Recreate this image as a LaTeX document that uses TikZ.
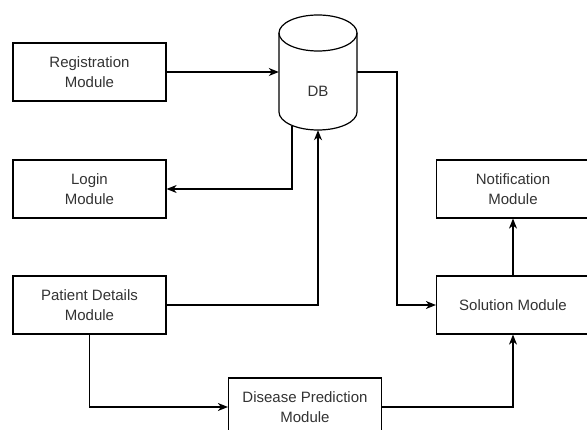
\documentclass[tikz,border=0pt]{standalone}
\usepackage{fontspec}
\setmainfont{Liberation Sans}
\usetikzlibrary{arrows.meta,calc}
\begin{document}
\begin{tikzpicture}[x=1pt,y=-1pt,
  box/.style={draw=black, line width=1.2pt, minimum width=153pt, minimum height=58pt,
    inner sep=0pt, align=center, font=\fontsize{15}{20}\selectfont, text=black!80},
  conn/.style={line width=1.2pt, draw=black},
  arr/.style={conn, -{Stealth[length=10pt,width=8pt,inset=3pt]}},
  lbl/.style={font=\fontsize{15}{20}\selectfont, text=black!80, inner sep=0pt}]
\useasboundingbox (0,0) rectangle (587,430);
\clip (0,0) rectangle (587,430);
\fill[white] (0,0) rectangle (587,430);
% boxes
\node[box] (reg) at (89.5,72) {Registration\\Module};
\node[box] (login) at (89.5,189) {Login\\Module};
\node[box] (pat) at (89.5,305) {Patient Details\\Module};
\node[box] (dis) at (305,407) {Disease Prediction\\Module};
\node[box] (sol) at (513,305) {Solution Module};
\node[box] (notif) at (513,189) {Notification\\Module};
% database cylinder
\node[minimum width=78pt, minimum height=115pt, inner sep=0pt] (db) at (318,72.5) {};
\draw[conn] (318,33) ellipse [x radius=39, y radius=18];
\draw[conn] (279,33) -- (279,112) arc[start angle=180, end angle=360, x radius=39, y radius=-18] -- (357,33);
\node[lbl] (dblabel) at (318,91) {DB};
% connectors
\coordinate (dbout) at (db.east |- reg.east);
\coordinate (dbdown) at (292,126.5);
\draw[arr] (reg.east) -- (reg.east -| db.west);
\draw[arr] (dbout) -- (397,72) |- (sol.west);
\draw[arr] (dbdown) |- (login.east);
\draw[arr] (pat.east) -| (db.south);
\draw[arr] (pat.south) |- (dis.west);
\draw[arr] (dis.east) -| (sol.south);
\draw[arr] (sol.north) -- (notif.south);
\end{tikzpicture}
\end{document}
